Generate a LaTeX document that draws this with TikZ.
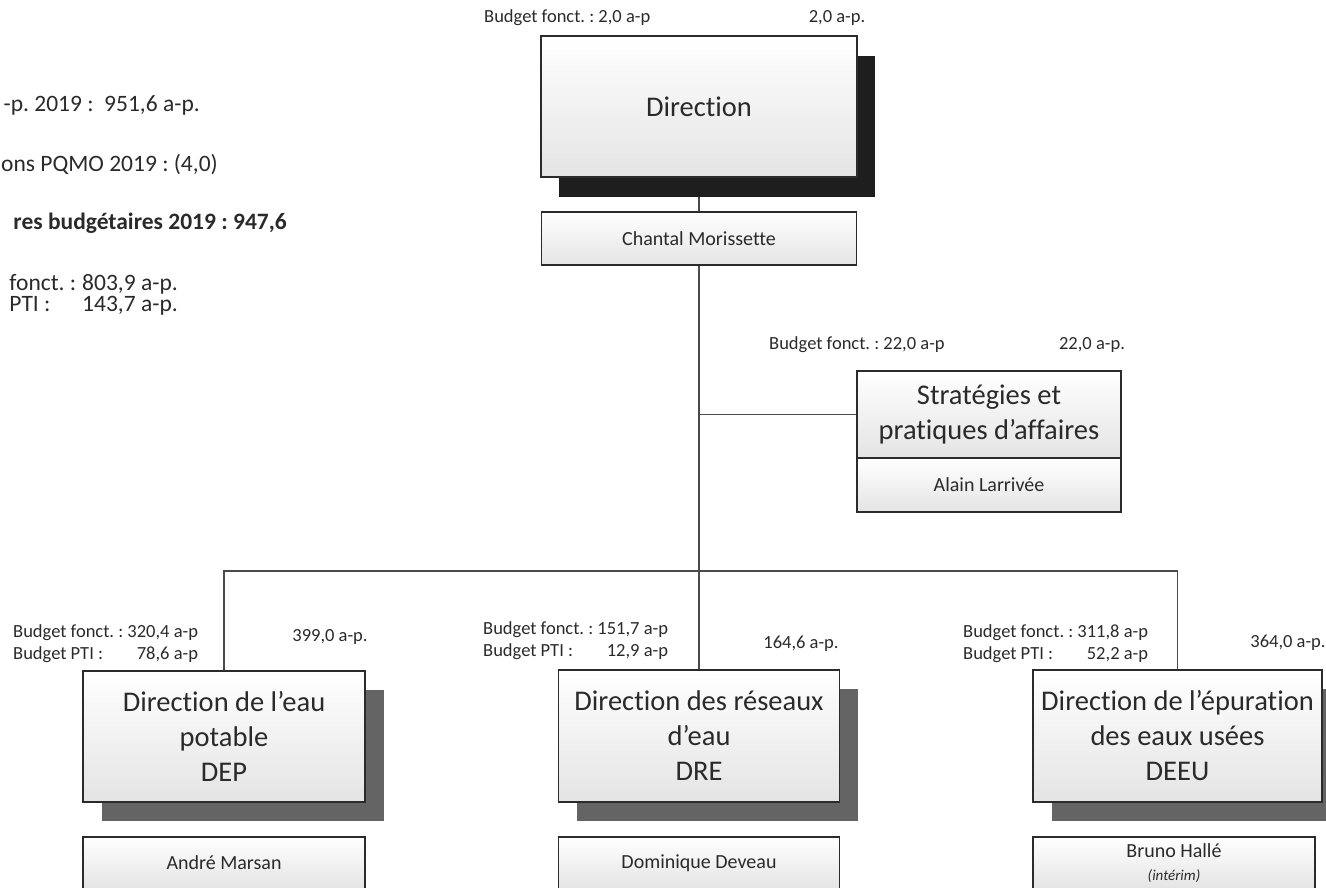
\documentclass[tikz,border=0pt]{standalone}
\usepackage{fontspec}
\setmainfont{Carlito}[Ligatures=NoCommon]
\usetikzlibrary{shadows,backgrounds}
\definecolor{txt}{HTML}{2A2A2A}
\definecolor{edgec}{HTML}{2B2B2B}
\definecolor{conn}{HTML}{4A4A4A}
\definecolor{shdark}{HTML}{1E1E1E}
\definecolor{shgray}{HTML}{646464}
\definecolor{boxbot}{HTML}{E4E4E4}
\tikzset{
  box/.style={draw=edgec, line width=1.3pt, top color=white, bottom color=boxbot, inner sep=0pt, align=center, text=txt},
  bigbox/.style={box, font=\fontsize{28.5}{35}\selectfont},
  namebox/.style={box, font=\fontsize{20}{24}\selectfont},
  darkshadow/.style={general shadow={fill=shdark, shadow xshift=18pt, shadow yshift=-19.5pt}},
  grayshadow/.style={general shadow={fill=shgray, shadow xshift=18.5pt, shadow yshift=-18.5pt}},
  lbl/.style={inner sep=0pt, text=txt, font=\fontsize{18.5}{22}\selectfont},
  info/.style={inner sep=0pt, text=txt, font=\fontsize{23.5}{28}\selectfont},
  link/.style={draw=conn, line width=1.4pt},
}
\frenchspacing
\begin{document}
\frenchspacing
\begin{tikzpicture}[x=1pt,y=-1pt]
\useasboundingbox (0,0) rectangle (1326,887);
\clip (0,0) rectangle (1326,887);

% left information block
\node[info, anchor=east] (t1) at (200,105) {-p. 2019 :~ 951,6 a-p.};
\node[info, anchor=east] (t2) at (218,165) {ons PQMO 2019 : (4,0)};
\node[info, anchor=east, font=\fontsize{23.5}{28}\selectfont\bfseries] (t3) at (287,223) {res budgétaires 2019 : 947,6};
\node[info, anchor=north east, font=\fontsize{23.5}{21}\selectfont] (t4) at (178,274) {\begin{tabular}{@{}l@{\hspace{6pt}}l@{}}fonct. : & 803,9 a-p.\\PTI : & 143,7 a-p.\end{tabular}};

% Direction
\node[bigbox, darkshadow, minimum width=316pt, minimum height=141pt] (dir) at (699,106.5) {Direction};
\node[lbl, anchor=west] (dirb) at (484,18) {Budget fonct. : 2,0 a-p};
\node[lbl] (dirt) at (837,18) {2,0 a-p.};
\node[namebox, minimum width=315pt, minimum height=53pt] (chantal) at (699,238.5) {Chantal Morissette};

% Strategies
\node[bigbox, minimum width=264pt, minimum height=87pt] (strat) at (989,414.5) {Stratégies et\\pratiques d’affaires};
\node[namebox, minimum width=264pt, minimum height=54pt] (alain) at (989,485) {Alain Larrivée};
\node[lbl, anchor=west] (stratb) at (769,345) {Budget fonct. : 22,0 a-p};
\node[lbl] (stratt) at (1092,345) {22,0 a-p.};

% DEP
\node[bigbox, grayshadow, minimum width=282pt, minimum height=131pt] (dep) at (224,736.5) {Direction de l’eau\\potable\\DEP};
\node[namebox, minimum width=282pt, minimum height=52pt] (andre) at (224,863) {André Marsan};
\node[lbl, anchor=west] (depb1) at (13,633) {Budget fonct. : 320,4 a-p};
\node[lbl, anchor=west] (depb2) at (13,655) {Budget PTI :};
\node[lbl, anchor=east] (depb3) at (depb1.east |- 0,655) {78,6 a-p};
\node[lbl] (dept) at (330,637) {399,0 a-p.};

% DRE
\node[bigbox, grayshadow, minimum width=281pt, minimum height=132pt] (dre) at (699,736) {Direction des réseaux\\d’eau\\DRE};
\node[namebox, minimum width=281pt, minimum height=52pt] (dominique) at (699,863) {Dominique Deveau};
\node[lbl, anchor=west] (dreb1) at (483,630) {Budget fonct. : 151,7 a-p};
\node[lbl, anchor=west] (dreb2) at (483,652) {Budget PTI :};
\node[lbl, anchor=east] (dreb3) at (dreb1.east |- 0,652) {12,9 a-p};
\node[lbl] (dret) at (801,644) {164,6 a-p.};

% DEEU
\node[bigbox, grayshadow, minimum width=289pt, minimum height=132pt] (deeu) at (1177.5,736) {Direction de l’épuration\\des eaux usées\\DEEU};
\node[namebox, minimum width=282pt, minimum height=52pt] (bruno) at (1174,863) {Bruno Hallé\\[-1pt]{\fontsize{15}{17}\selectfont\itshape (intérim)}};
\node[lbl, anchor=west] (deeub1) at (963,633) {Budget fonct. : 311,8 a-p};
\node[lbl, anchor=west] (deeub2) at (963,655) {Budget PTI :};
\node[lbl, anchor=east] (deeub3) at (deeub1.east |- 0,655) {52,2 a-p};
\node[lbl] (deeut) at (1288,643) {364,0 a-p.};

% connectors
\begin{scope}[on background layer]
\coordinate (bar) at (699,571);
\draw[link] (dir.south) -- (chantal.north);
\draw[link] (chantal.south) -- (bar);
\draw[link] (bar) -| (dep.north);
\draw[link] (bar) -| (deeu.north);
\draw[link] (bar) -- (dre.north);
\draw[link] (strat.west) -- (strat.west -| bar);
\end{scope}
\end{tikzpicture}
\end{document}
